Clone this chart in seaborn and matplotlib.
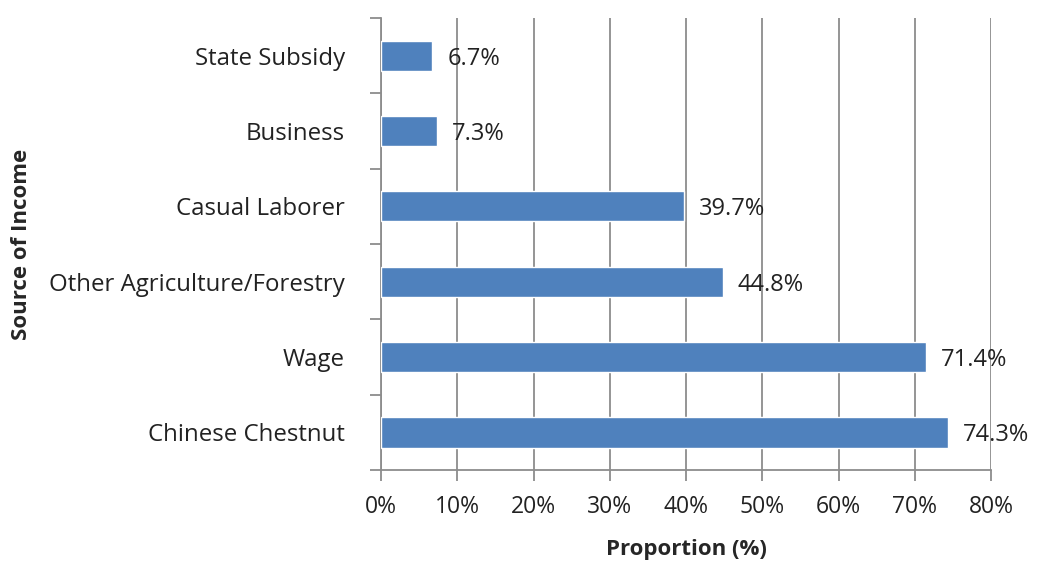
import matplotlib
matplotlib.use("Agg")
import matplotlib.pyplot as plt
import seaborn as sns
import pandas as pd
from matplotlib.ticker import FuncFormatter

# values (top to bottom)
sources = ['State Subsidy', 'Business', 'Casual Laborer',
           'Other Agriculture/Forestry', 'Wage', 'Chinese Chestnut']
proportion = [6.7, 7.3, 39.7, 44.8, 71.4, 74.3]

df = pd.DataFrame({'Source': sources, 'Proportion': proportion})

sns.set_style('white')
plt.rcParams['font.family'] = ['Open Sans', 'DejaVu Sans']

fig = plt.figure(figsize=(10.38, 5.63), dpi=100)
ax = fig.add_axes([0.367, 0.165, 0.588, 0.803])

sns.barplot(data=df, y='Source', x='Proportion', orient='h',
            color='#4F81BD', saturation=1, width=0.4, ax=ax, zorder=3)

for i, v in enumerate(proportion):
    ax.text(v + 2.0, i + 0.04, f'{v}%', va='center', ha='left',
            fontsize=17, color='#222222', zorder=4)

ax.set_xlim(0, 80)
ax.set_xticks(range(0, 81, 10))
ax.xaxis.set_major_formatter(FuncFormatter(lambda x, p: f'{int(x)}%'))
ax.set_ylim(5.5, -0.5)
ax.set_yticks(range(len(sources)))
ax.set_yticklabels(sources)
ax.set_yticks([i - 0.5 for i in range(len(sources) + 1)], minor=True)

ax.grid(axis='x', color='#8c8c8c', linewidth=1.3, zorder=0)
for side in ['top', 'right']:
    ax.spines[side].set_visible(False)
for side in ['left', 'bottom']:
    ax.spines[side].set_color('#8c8c8c')
    ax.spines[side].set_linewidth(1.3)

ax.tick_params(axis='y', which='major', length=0, pad=26, labelsize=17.3, labelcolor='#222222')
ax.tick_params(axis='y', which='minor', length=8, width=1.3, color='#8c8c8c', direction='out', left=True)
ax.tick_params(axis='x', which='major', length=8, width=1.3, color='#8c8c8c', direction='out',
               bottom=True, pad=10, labelsize=16.5, labelcolor='#222222')

ax.set_xlabel('Proportion (%)', fontsize=16, fontweight='bold', labelpad=14)
ax.set_ylabel('Source of Income', fontsize=16, fontweight='bold', labelpad=12)

fig.savefig('out.png', dpi=100)
